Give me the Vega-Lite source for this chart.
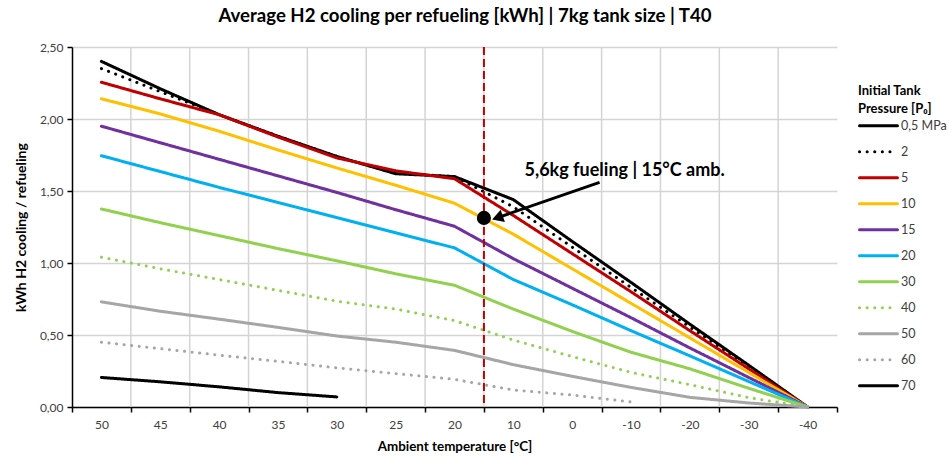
{
  "$schema": "https://vega.github.io/schema/vega-lite/v6.json",
  "width": 765,
  "height": 360,
  "autosize": "none",
  "padding": {"left": 72, "top": 47, "right": 112, "bottom": 51},
  "background": "white",
  "config": {
    "font": "Lato",
    "view": {"stroke": null},
    "axis": {
      "labelFont": "Lato",
      "labelFontSize": 12,
      "labelColor": "#404040",
      "titleFont": "Lato",
      "titleFontSize": 13.4,
      "titleFontWeight": "bold",
      "titleColor": "#000000",
      "domainColor": "#000000",
      "domainWidth": 1.5,
      "tickColor": "#000000",
      "tickWidth": 1.5,
      "tickSize": 5,
      "gridColor": "#D4D4D4",
      "gridWidth": 1.5,
      "labelOverlap": false,
      "labelFlush": false
    }
  },
  "title": {
    "text": "Average H2 cooling per refueling [kWh] | 7kg tank size | T40",
    "font": "Lato",
    "fontSize": 18.6,
    "fontWeight": "bold",
    "color": "#000000",
    "anchor": "middle",
    "frame": "group",
    "offset": 15,
    "dx": 10.5
  },
  "datasets": {
    "series": [
      {"p": "0,5 MPa", "T": 50, "v": 2.40}, {"p": "0,5 MPa", "T": 45, "v": 2.21}, {"p": "0,5 MPa", "T": 40, "v": 2.03}, {"p": "0,5 MPa", "T": 35, "v": 1.88}, {"p": "0,5 MPa", "T": 30, "v": 1.74}, {"p": "0,5 MPa", "T": 25, "v": 1.62}, {"p": "0,5 MPa", "T": 20, "v": 1.60}, {"p": "0,5 MPa", "T": 10, "v": 1.44}, {"p": "0,5 MPa", "T": 0, "v": 1.15}, {"p": "0,5 MPa", "T": -10, "v": 0.865}, {"p": "0,5 MPa", "T": -20, "v": 0.575}, {"p": "0,5 MPa", "T": -30, "v": 0.29}, {"p": "0,5 MPa", "T": -40, "v": 0},
      {"p": "2", "T": 50, "v": 2.35}, {"p": "2", "T": 45, "v": 2.19}, {"p": "2", "T": 40, "v": 2.03}, {"p": "2", "T": 35, "v": 1.88}, {"p": "2", "T": 30, "v": 1.74}, {"p": "2", "T": 25, "v": 1.625}, {"p": "2", "T": 20, "v": 1.60}, {"p": "2", "T": 10, "v": 1.39}, {"p": "2", "T": 0, "v": 1.11}, {"p": "2", "T": -10, "v": 0.83}, {"p": "2", "T": -20, "v": 0.555}, {"p": "2", "T": -30, "v": 0.28}, {"p": "2", "T": -40, "v": 0},
      {"p": "5", "T": 50, "v": 2.255}, {"p": "5", "T": 45, "v": 2.14}, {"p": "5", "T": 40, "v": 2.03}, {"p": "5", "T": 35, "v": 1.875}, {"p": "5", "T": 30, "v": 1.73}, {"p": "5", "T": 25, "v": 1.64}, {"p": "5", "T": 20, "v": 1.585}, {"p": "5", "T": 10, "v": 1.33}, {"p": "5", "T": 0, "v": 1.065}, {"p": "5", "T": -10, "v": 0.80}, {"p": "5", "T": -20, "v": 0.53}, {"p": "5", "T": -30, "v": 0.265}, {"p": "5", "T": -40, "v": 0},
      {"p": "10", "T": 50, "v": 2.14}, {"p": "10", "T": 45, "v": 2.035}, {"p": "10", "T": 40, "v": 1.915}, {"p": "10", "T": 35, "v": 1.785}, {"p": "10", "T": 30, "v": 1.66}, {"p": "10", "T": 25, "v": 1.54}, {"p": "10", "T": 20, "v": 1.415}, {"p": "10", "T": 10, "v": 1.20}, {"p": "10", "T": 0, "v": 0.96}, {"p": "10", "T": -10, "v": 0.72}, {"p": "10", "T": -20, "v": 0.48}, {"p": "10", "T": -30, "v": 0.24}, {"p": "10", "T": -40, "v": 0},
      {"p": "15", "T": 50, "v": 1.95}, {"p": "15", "T": 45, "v": 1.835}, {"p": "15", "T": 40, "v": 1.72}, {"p": "15", "T": 35, "v": 1.605}, {"p": "15", "T": 30, "v": 1.49}, {"p": "15", "T": 25, "v": 1.37}, {"p": "15", "T": 20, "v": 1.255}, {"p": "15", "T": 10, "v": 1.03}, {"p": "15", "T": 0, "v": 0.825}, {"p": "15", "T": -10, "v": 0.62}, {"p": "15", "T": -20, "v": 0.41}, {"p": "15", "T": -30, "v": 0.205}, {"p": "15", "T": -40, "v": 0},
      {"p": "20", "T": 50, "v": 1.745}, {"p": "20", "T": 45, "v": 1.635}, {"p": "20", "T": 40, "v": 1.525}, {"p": "20", "T": 35, "v": 1.42}, {"p": "20", "T": 30, "v": 1.315}, {"p": "20", "T": 25, "v": 1.21}, {"p": "20", "T": 20, "v": 1.105}, {"p": "20", "T": 10, "v": 0.885}, {"p": "20", "T": 0, "v": 0.71}, {"p": "20", "T": -10, "v": 0.53}, {"p": "20", "T": -20, "v": 0.355}, {"p": "20", "T": -30, "v": 0.177}, {"p": "20", "T": -40, "v": 0},
      {"p": "30", "T": 50, "v": 1.375}, {"p": "30", "T": 45, "v": 1.28}, {"p": "30", "T": 40, "v": 1.19}, {"p": "30", "T": 35, "v": 1.10}, {"p": "30", "T": 30, "v": 1.015}, {"p": "30", "T": 25, "v": 0.925}, {"p": "30", "T": 20, "v": 0.845}, {"p": "30", "T": 10, "v": 0.68}, {"p": "30", "T": 0, "v": 0.525}, {"p": "30", "T": -10, "v": 0.38}, {"p": "30", "T": -20, "v": 0.265}, {"p": "30", "T": -30, "v": 0.13}, {"p": "30", "T": -40, "v": 0},
      {"p": "40", "T": 50, "v": 1.04}, {"p": "40", "T": 45, "v": 0.96}, {"p": "40", "T": 40, "v": 0.885}, {"p": "40", "T": 35, "v": 0.81}, {"p": "40", "T": 30, "v": 0.735}, {"p": "40", "T": 25, "v": 0.68}, {"p": "40", "T": 20, "v": 0.60}, {"p": "40", "T": 10, "v": 0.465}, {"p": "40", "T": 0, "v": 0.35}, {"p": "40", "T": -10, "v": 0.24}, {"p": "40", "T": -20, "v": 0.155}, {"p": "40", "T": -30, "v": 0.065}, {"p": "40", "T": -40, "v": 0},
      {"p": "50", "T": 50, "v": 0.73}, {"p": "50", "T": 45, "v": 0.665}, {"p": "50", "T": 40, "v": 0.61}, {"p": "50", "T": 35, "v": 0.553}, {"p": "50", "T": 30, "v": 0.493}, {"p": "50", "T": 25, "v": 0.45}, {"p": "50", "T": 20, "v": 0.393}, {"p": "50", "T": 10, "v": 0.294}, {"p": "50", "T": 0, "v": 0.213}, {"p": "50", "T": -10, "v": 0.136}, {"p": "50", "T": -20, "v": 0.067}, {"p": "50", "T": -30, "v": 0.028}, {"p": "50", "T": -40, "v": 0},
      {"p": "60", "T": 50, "v": 0.45}, {"p": "60", "T": 45, "v": 0.405}, {"p": "60", "T": 40, "v": 0.36}, {"p": "60", "T": 35, "v": 0.317}, {"p": "60", "T": 30, "v": 0.272}, {"p": "60", "T": 25, "v": 0.232}, {"p": "60", "T": 20, "v": 0.192}, {"p": "60", "T": 10, "v": 0.118}, {"p": "60", "T": 0, "v": 0.083}, {"p": "60", "T": -10, "v": 0.035},
      {"p": "70", "T": 50, "v": 0.205}, {"p": "70", "T": 45, "v": 0.175}, {"p": "70", "T": 40, "v": 0.14}, {"p": "70", "T": 35, "v": 0.10}, {"p": "70", "T": 30, "v": 0.07}
    ],
    "boundaries": [
      {"T": 47.5}, {"T": 42.5}, {"T": 37.5}, {"T": 32.5}, {"T": 27.5}, {"T": 22.5}, {"T": 15}, {"T": 5}, {"T": -5}, {"T": -15}, {"T": -25}, {"T": -35}
    ],
    "marker": [{"T": 15, "v": 1.313}],
    "arrow": [{"T": -4.65, "v": 1.56, "T2": 12.4, "v2": 1.319}],
    "arrowhead": [{"T": 12.4, "v": 1.319}],
    "label": [{"T": 8.1, "v": 1.64, "text": "5,6kg fueling | 15°C amb."}],
    "refline": [{"T": 15}]
  },
  "layer": [
    {
      "data": {"name": "boundaries"},
      "mark": {"type": "rule", "color": "#D4D4D4", "strokeWidth": 1.5},
      "encoding": {"x": {"field": "T", "type": "quantitative"}}
    },
    {
      "data": {"name": "series"},
      "mark": {"type": "line", "strokeWidth": 3, "strokeCap": "round", "strokeJoin": "round"},
      "encoding": {
        "x": {
          "field": "T",
          "type": "quantitative",
          "title": "Ambient temperature [°C]",
          "scale": {"type": "linear", "domain": [52.5, 20, -45], "range": [0, 382.5, 765], "nice": false, "zero": false},
          "axis": {
            "values": [52.5, 50, 47.5, 45, 42.5, 40, 37.5, 35, 32.5, 30, 27.5, 25, 22.5, 20, 15, 10, 5, 0, -5, -10, -15, -20, -25, -30, -35, -40, -45],
            "tickCount": 60,
            "labelExpr": "indexof([50,45,40,35,30,25,20,10,0,-10,-20,-30,-40], datum.value) >= 0 ? '' + datum.value : ''",
            "tickOpacity": {"condition": {"test": "indexof([50,45,40,35,30,25,20,10,0,-10,-20,-30,-40], datum.value) >= 0", "value": 0}, "value": 1},
            "labelPadding": 7,
            "titlePadding": 9,
            "grid": false
          }
        },
        "y": {
          "field": "v",
          "type": "quantitative",
          "title": "kWh H2 cooling / refueling",
          "scale": {"domain": [0, 2.5], "nice": false, "zero": true},
          "axis": {
            "values": [0, 0.25, 0.5, 0.75, 1, 1.25, 1.5, 1.75, 2, 2.25, 2.5],
            "labelExpr": "replace(format(datum.value, '.2f'), '.', ',')",
            "labelPadding": 4,
            "titlePadding": 11,
            "titleFontSize": 14,
            "grid": true
          }
        },
        "color": {
          "field": "p",
          "type": "nominal",
          "title": ["Initial Tank", "Pressure [P₀]"],
          "scale": {
            "domain": ["0,5 MPa", "2", "5", "10", "15", "20", "30", "40", "50", "60", "70"],
            "range": ["#000000", "#000000", "#C00000", "#FFC000", "#7030A0", "#00B0F0", "#92D050", "#92D050", "#A6A6A6", "#A6A6A6", "#000000"]
          },
          "legend": {
            "orient": "none",
            "legendX": 786,
            "legendY": 38,
            "symbolType": "stroke",
            "symbolSize": 1444,
            "symbolStrokeWidth": 3,
            "labelFont": "Lato",
            "labelFontSize": 12.5,
            "labelColor": "#404040",
            "labelOffset": 2,
            "titleFont": "Lato",
            "titleFontSize": 13,
            "titleFontWeight": "bold",
            "titleColor": "#000000",
            "titleLineHeight": 18,
            "titleAlign": "left",
            "titleAnchor": "start",
            "titlePadding": -3,
            "clipHeight": 25.5,
            "rowPadding": 0,
            "padding": 0,
            "encode": {"symbols": {"update": {"strokeCap": {"value": "round"}}}}
          }
        },
        "strokeDash": {
          "field": "p",
          "type": "nominal",
          "title": ["Initial Tank", "Pressure [P₀]"],
          "scale": {
            "domain": ["0,5 MPa", "2", "5", "10", "15", "20", "30", "40", "50", "60", "70"],
            "range": [[1, 0], [0.1, 7.5], [1, 0], [1, 0], [1, 0], [1, 0], [1, 0], [0.1, 7.5], [1, 0], [0.1, 7.5], [1, 0]]
          }
        }
      }
    },
    {
      "data": {"name": "refline"},
      "mark": {"type": "rule", "color": "#C00000", "strokeWidth": 2, "strokeDash": [8, 4]},
      "encoding": {"x": {"field": "T", "type": "quantitative"}}
    },
    {
      "data": {"name": "marker"},
      "mark": {"type": "point", "filled": true, "color": "#000000", "size": 200, "opacity": 1},
      "encoding": {
        "x": {"field": "T", "type": "quantitative"},
        "y": {"field": "v", "type": "quantitative"}
      }
    },
    {
      "data": {"name": "arrow"},
      "mark": {"type": "rule", "color": "#000000", "strokeWidth": 3},
      "encoding": {
        "x": {"field": "T", "type": "quantitative"},
        "y": {"field": "v", "type": "quantitative"},
        "x2": {"field": "T2"},
        "y2": {"field": "v2"}
      }
    },
    {
      "data": {"name": "arrowhead"},
      "mark": {"type": "point", "shape": "triangle", "filled": true, "color": "#000000", "size": 170, "angle": 251, "opacity": 1},
      "encoding": {
        "x": {"field": "T", "type": "quantitative"},
        "y": {"field": "v", "type": "quantitative"}
      }
    },
    {
      "data": {"name": "label"},
      "mark": {"type": "text", "align": "left", "baseline": "middle", "font": "Lato", "fontSize": 18, "fontWeight": "bold", "color": "#000000"},
      "encoding": {
        "x": {"field": "T", "type": "quantitative"},
        "y": {"field": "v", "type": "quantitative"},
        "text": {"field": "text"}
      }
    }
  ]
}
